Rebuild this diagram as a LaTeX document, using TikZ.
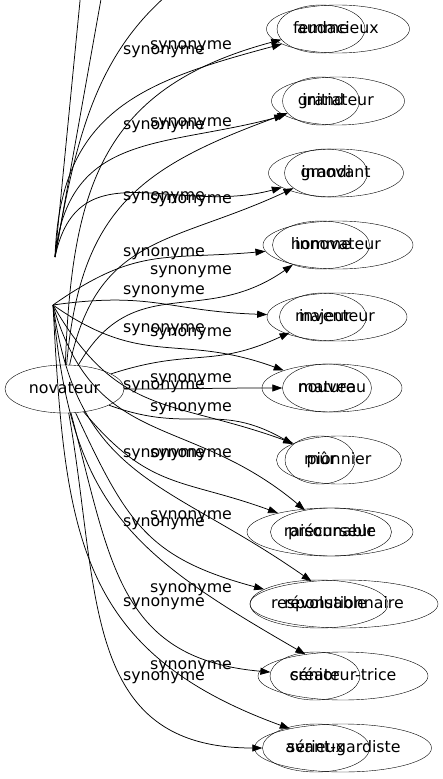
\documentclass[tikz,border=0pt]{standalone}
\usepackage{fontspec}
\setmainfont{DejaVu Sans}
\usetikzlibrary{arrows.meta,shapes.geometric}
\tikzset{
word/.style={
draw,
ellipse,
minimum height=48pt,
inner sep=0pt,
text height=11.5pt,
text depth=3.5pt,
font=\fontsize{15.8pt}{19pt}\selectfont
},
lbl/.style={
inner sep=0pt,
text height=11.5pt,
text depth=3.5pt,
font=\fontsize{15.8pt}{19pt}\selectfont
},
arrow/.style={
-{Triangle[length=10pt,width=7pt]},
line width=0.75pt
}
}

\begin{document}
\begin{tikzpicture}[x=1pt,y=-1pt]
\useasboundingbox (0,0) rectangle (443,779);
\clip (0,0) rectangle (443,779);

% sources
\node[word,minimum width=119pt](nov) at (64.5,389){novateur};
\coordinate (hubN) at (55,257);
\coordinate (hubS) at (53,305);
\coordinate (up1) at (84,-40);
\coordinate (up2) at (108,-40);
\coordinate (up3) at (200,-30);

% first column of words
\node[word,minimum width=143pt](aud) at (338,29){audacieux};
\node[word,minimum width=133pt](ini) at (338,101){initiateur};
\node[word,minimum width=135pt](innv) at (336,173){innovant};
\node[word,minimum width=150pt](innvt) at (338,245){innovateur};
\node[word,minimum width=140pt](inv) at (337,317){inventeur};
\node[word,minimum width=140pt](nouv) at (332,388){nouveau};
\node[word,minimum width=125pt](pion) at (339,460){pionnier};
\node[word,minimum width=112pt](prec) at (331,532){précurseur};
\node[word,minimum width=188pt](revo) at (344,604){révolutionnaire};
\node[word,minimum width=170pt](crea) at (343,676){créateur-trice};
\node[word,minimum width=177pt](avant) at (343,748){avant-gardiste};

% second column of words
\node[word,minimum width=88pt](femme) at (321,29){femme};
\node[word,minimum width=77pt](grand) at (321,101){grand};
\node[word,minimum width=83pt](grandi) at (326,173){grandi};
\node[word,minimum width=97pt](homme) at (321,245){homme};
\node[word,minimum width=87pt](majeur) at (323,317){majeur};
\node[word,minimum width=89pt](mature) at (327,388){mature};
\node[word,minimum width=70pt](mur) at (320,460){mûr};
\node[word,minimum width=166pt](raison) at (330,532){raisonnable};
\node[word,minimum width=138pt](respo) at (319,604){responsable};
\node[word,minimum width=90pt](senior) at (315,676){sénior};
\node[word,minimum width=107pt](serieux) at (316,748){sérieux};

% edge labels
\foreach \y [count=\k] in {50,125,196,252,290,328,385,453,522,602,676}
\node[lbl](ls\k) at (164,\y){synonyme};
\foreach \y [count=\k] in {45,122,199,270,332,378,407,453,515,588,665}
\node[lbl](rs\k) at (191,\y){synonyme};

% edges
\foreach \s/\t/\o/\i in {hubN/aud/88/195,hubN/ini/84/195,hubN/innv/78/195,hubS/innvt/35/185,hubS/inv/8/178,hubS/nouv/-35/160,hubS/pion/-60/160,hubS/prec/-74/140,hubS/revo/-82/145,hubS/crea/-85/150,hubS/avant/-87/160}
\draw[arrow](\s) to[out=\o,in=\i,looseness=1.2] (\t);

\foreach \t/\o/\i in {femme/88/195,grand/85/200,grandi/78/205,homme/60/215,majeur/18/205,mature/0/180,mur/-20/150,raison/-50/160,respo/-65/165,senior/-75/175,serieux/-80/180}
\draw[arrow](nov) to[out=\o,in=\i,looseness=1.2] (\t);

\draw[arrow](hubN)--(up1);
\draw[arrow](hubN)--(up2);
\draw[arrow](hubN) to[out=80,in=215] (up3);
\end{tikzpicture}
\end{document}
